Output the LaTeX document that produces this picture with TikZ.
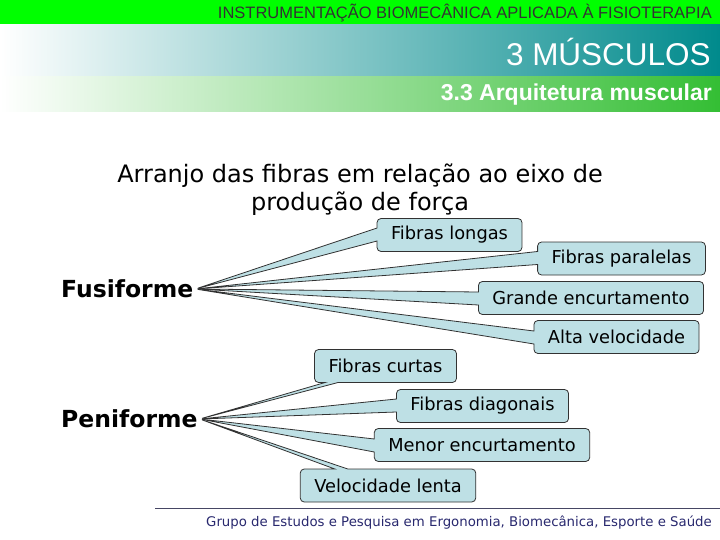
\documentclass[tikz,border=0pt]{standalone}
\usepackage{fontspec}
\setmainfont{DejaVu Sans}
\newfontfamily\arialfont{Liberation Sans}
\usepackage{tikz}
\usetikzlibrary{shapes.callouts}
\usepackage{xcolor}
\definecolor{barGreen}{RGB}{0,255,0}
\definecolor{bandTeal}{RGB}{0,138,140}
\definecolor{bandTealMid}{RGB}{196,216,222}
\definecolor{bandGreen}{RGB}{52,190,52}
\definecolor{bandGreenMid}{RGB}{205,235,198}
\definecolor{balloonFill}{RGB}{190,224,229}
\definecolor{balloonLine}{RGB}{50,50,50}
\definecolor{footNavy}{RGB}{40,40,110}
\definecolor{footLine}{RGB}{70,70,100}

\begin{document}
\begin{tikzpicture}[x=1pt,y=-1pt,
  balloon/.style={rectangle callout,draw=balloonLine,line width=0.8pt,fill=balloonFill,
    rounded corners=4pt,inner xsep=14pt,minimum height=33pt,
    font=\fontsize{17.8}{20}\selectfont,callout pointer width=13pt},
  kind/.style={anchor=west,inner xsep=2pt,font=\bfseries\fontsize{23.5}{26}\selectfont}]
\useasboundingbox (0,0) rectangle (720,540);
% header bands
\fill[barGreen] (0,0) rectangle (720,25);
\shade[left color=white,middle color=bandTealMid,right color=bandTeal] (0,25) rectangle (720,77);
\shade[left color=white,middle color=bandGreenMid,right color=bandGreen] (0,77) rectangle (720,112);
\node[anchor=east,inner sep=0pt,text=black!80,font=\arialfont\fontsize{16.5}{18}\selectfont] (course) at (712,13) {INSTRUMENTAÇÃO BIOMECÂNICA APLICADA À FISIOTERAPIA};
\node[anchor=east,inner sep=0pt,text=white,font=\arialfont\fontsize{31.5}{34}\selectfont] (chapter) at (711,52) {3 MÚSCULOS};
\node[anchor=east,inner sep=0pt,text=white,font=\arialfont\bfseries\fontsize{23}{26}\selectfont] (section) at (712,95) {3.3 Arquitetura muscular};
% title
\node[align=center,font=\fontsize{24}{28}\selectfont] (title) at (360,190) {Arranjo das fibras em relação ao eixo de\\produção de força};
% the two arrangements
\node[kind] (fus) at (59,289) {Fusiforme};
\node[kind] (pen) at (59,419) {Peniforme};
\node[balloon,callout absolute pointer={(fus.east)}] (longas) at (449.5,235) {Fibras longas};
\node[balloon,callout absolute pointer={(fus.east)}] (paralelas) at (621.5,258.5) {Fibras paralelas};
\node[balloon,callout absolute pointer={(fus.east)}] (grande) at (591,298) {Grande encurtamento};
\node[balloon,callout absolute pointer={(fus.east)}] (altavel) at (616.5,337) {Alta velocidade};
\node[balloon,callout absolute pointer={(pen.east)}] (curtas) at (385.5,366) {Fibras curtas};
\node[balloon,callout absolute pointer={(pen.east)}] (diagonais) at (482.5,406) {Fibras diagonais};
\node[balloon,callout absolute pointer={(pen.east)}] (menor) at (482,445) {Menor encurtamento};
\node[balloon,callout absolute pointer={(pen.east)}] (lenta) at (388,485.5) {Velocidade lenta};
% footer
\draw[footLine,line width=1pt] (155,508) -- (720,508);
\node[anchor=east,inner sep=0pt,text=footNavy,font=\fontsize{13.3}{15}\selectfont] (group) at (712,523) {Grupo de Estudos e Pesquisa em Ergonomia, Biomecânica, Esporte e Saúde};
\end{tikzpicture}
\end{document}
